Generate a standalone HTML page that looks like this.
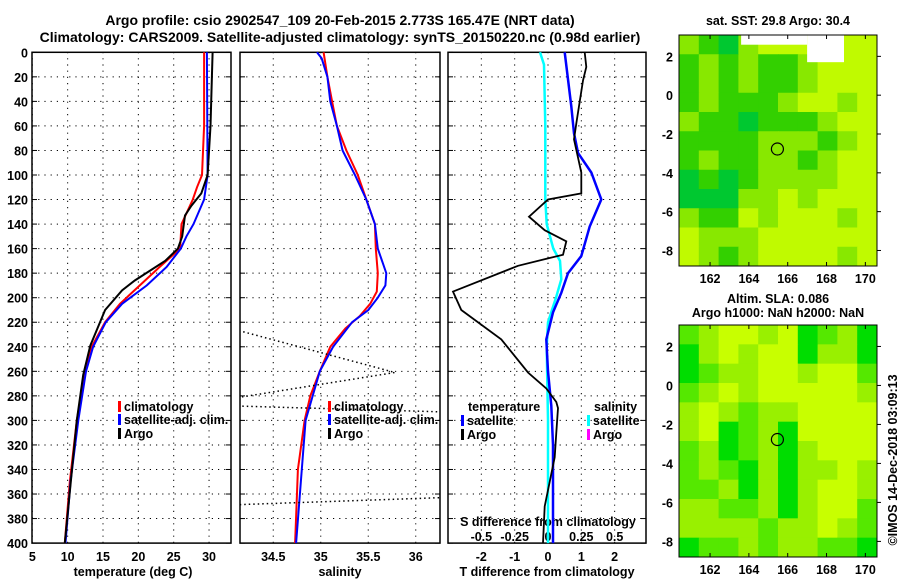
<!DOCTYPE html>
<html><head><meta charset="utf-8"><style>
body{margin:0;background:#fff;}
svg text{font-family:"Liberation Sans",sans-serif;font-weight:bold;fill:#000;}
</style></head><body>
<svg id="c" width="900" height="580" xmlns="http://www.w3.org/2000/svg">
<defs>
<clipPath id="cp1"><rect x="32" y="52" width="199" height="492"/></clipPath>
<clipPath id="cp2"><rect x="240" y="52" width="200" height="492"/></clipPath>
<clipPath id="cp3"><rect x="448" y="52" width="198" height="492"/></clipPath>
</defs>
<text x="340" y="25" font-size="14" text-anchor="middle">Argo profile: csio 2902547_109 20-Feb-2015 2.773S 165.47E (NRT data)</text>
<text x="340" y="42" font-size="14" text-anchor="middle">Climatology: CARS2009. Satellite-adjusted climatology: synTS_20150220.nc (0.98d earlier)</text>
<g id="g"></g>
</svg>
<script>
// ---- data ----
const tempClimDepth=[0,60,100,110,120,140,160,175,190,205,220,240,260,300,350,400];
const tempClim=[29.3,29.3,29.0,28.3,27.7,26.1,25.9,23.0,20.2,17.4,15.3,13.4,12.5,11.3,10.3,9.6];
const tempSatDepth=[0,100,120,140,150,160,175,190,205,220,240,260,300,350,400];
const tempSat=[29.7,29.8,29.3,27.8,26.8,26.0,24.0,21.2,17.7,15.4,13.6,12.6,11.5,10.4,9.7];
const tempArgoDepth=[0,60,100,115,125,133,150,160,170,186,194,210,239,263,300,400];
const tempArgo=[30.5,30.2,29.8,28.9,27.5,26.6,26.2,25.6,23.8,19.5,17.7,15.3,13.2,12.2,11.3,9.6];
const salClimDepth=[0,20,40,60,80,100,120,140,160,180,195,205,215,225,240,260,280,300,340,400];
const salClim=[35.03,35.07,35.12,35.17,35.27,35.39,35.48,35.57,35.58,35.60,35.59,35.52,35.41,35.26,35.10,34.99,34.89,34.83,34.76,34.73];
const salSatDepth=[0,5,20,40,60,80,100,120,140,160,180,190,200,210,220,240,260,300,400];
const salSat=[34.96,35.01,35.07,35.10,35.17,35.23,35.36,35.48,35.57,35.60,35.69,35.68,35.60,35.50,35.33,35.13,34.99,34.84,34.74];
const salArgoDepth=[224,261,283,288,293,297,356,363,369];
const salArgo=[34.0,35.78,34.0,34.0,36.25,38.0,38.0,36.25,34.0];
const dTSatDepth=[0,44,66,82,98,120,142,166,180,196,212,234,260,288,320,400];
const dTSat=[0.5,0.7,0.78,0.9,1.3,1.6,1.25,1.0,0.6,0.4,0.15,-0.05,0.0,0.1,0.15,0.15];
const dTArgoDepth=[0,12,23,58,71,98,115,120,134,145,154,165,168,174,195,210,234,261,274,285,290,310,330,350,370,400];
const dTArgo=[1.1,1.15,1.05,0.85,0.78,1.0,1.0,0.0,-0.57,-0.1,0.55,0.45,0.0,-0.9,-2.85,-2.6,-1.4,-0.6,-0.05,0.25,0.3,0.25,0.2,0.05,-0.1,-0.15];
const dSSatDepth=[0,10,60,120,140,160,170,185,200,220,240,300,400];
const dSSat=[-0.06,-0.03,-0.02,-0.02,-0.01,0.04,0.09,0.10,0.06,0.0,-0.01,0.0,0.0];
const depthTicks=[0,20,40,60,80,100,120,140,160,180,200,220,240,260,280,300,320,340,360,380,400];
const tempTicks=[5,10,15,20,25,30];
const salTicks=[34.5,35,35.5,36];
const dTTicks=[-2,-1,0,1,2];
const dSTicks=[-0.5,-0.25,0,0.25,0.5];
const mapLonTicks=[162,164,166,168,170];
const mapLatTicks=[2,0,-2,-4,-6,-8];
const argoLon=165.47, argoLat=-2.773;
const sstGrid=["2102333333","1212112333","1212112333","1211123323","2110111233","1111222123","1211221233","0101222233","0002232333","2113233323","3222333333","3212333323"];
const slaGrid=["2344341231","1343441331","1233443442","2343444443","3432334444","3412314444","2312313444","2321313343","2231313443","3322313442","3333233432","1223233221"];
const sstColors=["#00c830","#33d000","#88e800","#c0fa00"];
const slaColors=["#00dd00","#00dd00","#55e800","#99f000","#c8ff00"];
// ---- axes ----
const NS="http://www.w3.org/2000/svg";
const g=document.getElementById('g');
function el(t,a,p){const e=document.createElementNS(NS,t);for(const k in a)e.setAttribute(k,a[k]);(p||g).appendChild(e);return e;}
const Y=d=>52.3+d*1.227;
const X1=v=>32.3+(v-5)*7.07;
const X2=v=>240+(v-34.15)*95;
const X3=v=>548+v*33.33;
const X3s=v=>548+v*4*33.33;
function panel(x0,x1,xs,ticks,fmt,name){
  const pg=el('g',{});
  
  
  depthTicks.forEach(d=>{if(d>0&&d<400){const l=el('line',{x1:x0,x2:x1,y1:Y(d),y2:Y(d),stroke:'#000','stroke-dasharray':'1.2 5'},pg);
    }
    el('line',{x1:x0,x2:x0+5,y1:Y(d),y2:Y(d),stroke:'#000'},pg);el('line',{x1:x1-5,x2:x1,y1:Y(d),y2:Y(d),stroke:'#000'},pg);});
  ticks.forEach(v=>{const x=xs(v);const l=el('line',{x1:x,x2:x,y1:52,y2:544,stroke:'#000','stroke-dasharray':'1.2 5'},pg);
    
    const t=el('text',{x:x,y:561,'font-size':12.5,'text-anchor':'middle'},pg);t.textContent=fmt(v);
    });
  const r=el('rect',{x:x0,y:Y(0),width:x1-x0,height:Y(400)-Y(0),fill:'none',stroke:'#000','stroke-width':1.5},pg);
  
}
panel(32,231,X1,tempTicks,v=>String(v),'temperature-panel');
panel(240,440,X2,salTicks,v=>String(v),'salinity-panel');
panel(448,646,X3,dTTicks,v=>String(v),'difference-panel');
depthTicks.forEach(d=>{const t=el('text',{x:28,y:Y(d)+5,'font-size':12.5,'text-anchor':'end'});t.textContent=d;
  });
dSTicks.forEach(v=>{const t=el('text',{x:X3s(v),y:541,'font-size':12.5,'text-anchor':'middle'});t.textContent=String(v);
  });
function txt(x,y,s,name,extra){const t=el('text',Object.assign({x:x,y:y,'font-size':12.5},extra||{}));t.textContent=s;return t;}
txt(548,526,'S difference from climatology','s-diff-axis-title',{'text-anchor':'middle'});
txt(133,576,'temperature (deg C)','temperature-axis-title',{'text-anchor':'middle'});
txt(340,576,'salinity','salinity-axis-title',{'text-anchor':'middle'});
txt(547,576,'T difference from climatology','t-diff-axis-title',{'text-anchor':'middle'});
function line(vals,deps,xs,color,clip,name,w,dash){
  const pts=vals.map((v,i)=>xs(v).toFixed(1)+','+Y(deps[i]).toFixed(1)).join(' ');
  const a={points:pts,fill:'none',stroke:color,'stroke-width':w||2,'clip-path':'url(#'+clip+')'};
  if(dash)a['stroke-dasharray']=dash;
  const p=el('polyline',a);
  
  
}
line(tempClim,tempClimDepth,X1,'#ff0000','cp1','temp-climatology-line');
line(tempSat,tempSatDepth,X1,'#0000ff','cp1','temp-satellite-line');
line(tempArgo,tempArgoDepth,X1,'#000','cp1','temp-argo-line');
line(salClim,salClimDepth,X2,'#ff0000','cp2','sal-climatology-line');
line(salSat,salSatDepth,X2,'#0000ff','cp2','sal-satellite-line');
line(salArgo,salArgoDepth,X2,'#000','cp2','sal-argo-line',1.5,'1.5 3');
line(dSSat,dSSatDepth,X3s,'#00ffff','cp3','s-diff-satellite-line',2.5);
line(dTSat,dTSatDepth,X3,'#0000ff','cp3','t-diff-satellite-line',2.5);
line(dTArgo,dTArgoDepth,X3,'#000','cp3','t-diff-argo-line',1.8);
function leg(x,y,color,s,name){
  const r=el('rect',{x:x,y:y-10,width:3,height:11,fill:color});
  
  if(s)txt(x+6,y,s,name);
}
leg(118,411,'#ff0000','climatology','legend-temp-climatology');
leg(118,424,'#0000ff','satellite-adj. clim.','legend-temp-satellite');
leg(118,438,'#000','Argo','legend-temp-argo');
leg(328,411,'#ff0000','climatology','legend-sal-climatology');
leg(328,424,'#0000ff','satellite-adj. clim.','legend-sal-satellite');
leg(328,438,'#000','Argo','legend-sal-argo');
txt(468,411,'temperature','legend-temperature-heading');
leg(461,425,'#0000ff','satellite','legend-dt-satellite');
leg(461,439,'#000','Argo','legend-dt-argo');
txt(594,411,'salinity','legend-salinity-heading');
leg(587,425,'#00ffff','satellite','legend-ds-satellite');
leg(587,439,'#ff00ff','Argo','legend-ds-argo');
// ---- maps ----
function map(top,bottom,grid,colors,name,white){
  const mx0=679,mx1=877,lon0=160.4,lon1=170.6,lat0=3.1,lat1=-8.8;
  const MX=v=>mx0+(v-lon0)/(lon1-lon0)*(mx1-mx0);
  const MY=v=>top+(lat0-v)/(lat0-lat1)*(bottom-top);
  const mg=el('g',{});
  const rows=grid.length,cols=grid[0].length,cw=(mx1-mx0)/cols,ch=(bottom-top)/rows;
  grid.forEach((row,r)=>{for(let c=0;c<cols;c++){const k=el('rect',{x:mx0+c*cw,y:top+r*ch,width:cw+0.5,height:ch+0.5,fill:colors[+row[c]]},mg);
    }});
  if(white){el('rect',{x:MX(163.6),y:top,width:MX(167)-MX(163.6),height:MY(2.6)-top,fill:'#fff'},mg);
    el('rect',{x:MX(167),y:top,width:MX(168.9)-MX(167),height:MY(1.7)-top,fill:'#fff'},mg);}
  const ci=el('circle',{cx:MX(argoLon),cy:MY(argoLat),r:6,fill:'none',stroke:'#000','stroke-width':1.2},mg);
  
  el('rect',{x:mx0,y:top,width:mx1-mx0,height:bottom-top,fill:'none',stroke:'#000'},mg);
  mapLonTicks.forEach(v=>{el('line',{x1:MX(v),x2:MX(v),y1:bottom,y2:bottom-4,stroke:'#000'},mg);el('line',{x1:MX(v),x2:MX(v),y1:top,y2:top+4,stroke:'#000'},mg);
    txt(MX(v),bottom+17,String(v),'map-lon-label',{'text-anchor':'middle'});});
  mapLatTicks.forEach(v=>{el('line',{x1:mx1,x2:mx1+4,y1:MY(v),y2:MY(v),stroke:'#000'},mg);
    txt(673,MY(v)+5,String(v),'map-lat-label',{'text-anchor':'end'});});
}
map(35,266,sstGrid,sstColors,'sst-map',true);
map(325,557,slaGrid,slaColors,'sla-map',false);
txt(778,25,'sat. SST: 29.8 Argo: 30.4','sst-map-title',{'text-anchor':'middle'});
txt(778,303,'Altim. SLA: 0.086','sla-map-title',{'text-anchor':'middle'});
txt(778,317,'Argo h1000: NaN h2000: NaN','sla-map-subtitle',{'text-anchor':'middle'});
txt(0,0,'©IMOS 14-Dec-2018 03:09:13','credit-label',{'text-anchor':'middle','font-weight':'normal',transform:'translate(897,460) rotate(-90)'});
</script>
</body></html>
